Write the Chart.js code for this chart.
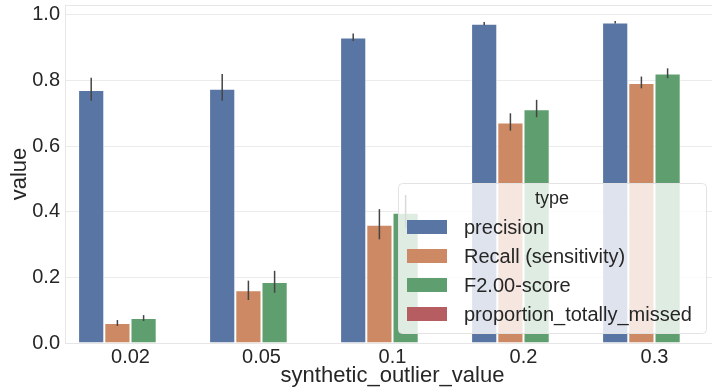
<!DOCTYPE html>
<html>
<head>
<meta charset="utf-8">
<script src="https://cdn.jsdelivr.net/npm/chart.js@4/dist/chart.umd.min.js"></script>
<style>
  html, body { margin: 0; padding: 0; background: #fff; overflow: hidden; }
  #wrap { width: 720px; height: 392px; }
</style>
</head>
<body>
<div id="wrap"><canvas id="chart" width="720" height="392"></canvas></div>
<script>
var categories = ['0.02', '0.05', '0.1', '0.2', '0.3'];
var seriesNames = ['precision', 'Recall (sensitivity)', 'F2.00-score', 'proportion_totally_missed'];
var colors = ['#5975a4', '#cc8963', '#5f9e6e', '#b55d60'];

var precision = [0.771, 0.775, 0.931, 0.973, 0.977];
var recall    = [0.061, 0.161, 0.360, 0.672, 0.792];
var f2score   = [0.076, 0.186, 0.397, 0.712, 0.821];
var missed    = [0, 0, 0, 0, 0];

// error bar ends (low / high)
var precisionLow  = [0.738, 0.738, 0.920, 0.968, 0.974];
var precisionHigh = [0.808, 0.820, 0.943, 0.978, 0.981];
var recallLow     = [0.052, 0.131, 0.316, 0.647, 0.776];
var recallHigh    = [0.070, 0.190, 0.408, 0.700, 0.812];
var f2Low         = [0.067, 0.153, 0.350, 0.688, 0.807];
var f2High        = [0.085, 0.220, 0.451, 0.741, 0.837];
var missedLow     = [0, 0, 0, 0, 0];
var missedHigh    = [0, 0, 0, 0, 0];

var yTicks = [0, 0.2, 0.4, 0.6, 0.8, 1.0];

var values = [precision, recall, f2score, missed];
var lows = [precisionLow, recallLow, f2Low, missedLow];
var highs = [precisionHigh, recallHigh, f2High, missedHigh];

var FONT = '"Liberation Sans", Arial, sans-serif';
var TXT = '#262626';

var framePlugin = {
    id: 'frame',
    beforeDatasetsDraw: function(chart) {
        var a = chart.chartArea, ctx = chart.ctx;
        ctx.save();
        ctx.strokeStyle = '#e6e6e6';
        ctx.lineWidth = 1;
        ctx.strokeRect(a.left + 0.5, a.top + 0.5, a.right - a.left - 1, a.bottom - a.top);
        ctx.restore();
    }
};

var errorBars = {
    id: 'errorBars',
    afterDatasetsDraw: function(chart) {
        var ctx = chart.ctx, y = chart.scales.y;
        ctx.save();
        ctx.strokeStyle = '#444444';
        ctx.lineWidth = 1.5;
        chart.data.datasets.forEach(function(ds, i) {
            var meta = chart.getDatasetMeta(i);
            meta.data.forEach(function(bar, j) {
                if (ds.errHigh[j] - ds.errLow[j] <= 0) return;
                ctx.beginPath();
                ctx.moveTo(bar.x, y.getPixelForValue(ds.errLow[j]));
                ctx.lineTo(bar.x, y.getPixelForValue(ds.errHigh[j]));
                ctx.stroke();
            });
        });
        ctx.restore();
    }
};

var legendBox = {
    id: 'legendBox',
    afterDraw: function(chart) {
        var ctx = chart.ctx;
        var x = 398, y = 183, w = 308, h = 150, r = 4;
        ctx.save();
        ctx.beginPath();
        ctx.roundRect(x + 0.5, y + 0.5, w, h, r);
        ctx.fillStyle = 'rgba(255,255,255,0.8)';
        ctx.fill();
        ctx.strokeStyle = '#e3e3e3';
        ctx.lineWidth = 1;
        ctx.stroke();
        ctx.fillStyle = TXT;
        ctx.textBaseline = 'middle';
        ctx.textAlign = 'center';
        ctx.font = '18px ' + FONT;
        ctx.fillText('type', 552, 199);
        ctx.textAlign = 'left';
        ctx.font = '20px ' + FONT;
        chart.data.datasets.forEach(function(ds, i) {
            var cy = 227 + i * 29;
            ctx.fillStyle = ds.backgroundColor;
            ctx.fillRect(407, cy - 7, 40, 14);
            ctx.fillStyle = TXT;
            ctx.fillText(ds.label, 464, cy + 1);
        });
        ctx.restore();
    }
};

function InitChart() {
    var datasets = seriesNames.map(function(name, i) {
        return {
            label: name,
            data: values[i],
            errLow: lows[i],
            errHigh: highs[i],
            backgroundColor: colors[i],
            borderColor: 'rgba(255,255,255,0.7)',
            borderWidth: 1,
            categoryPercentage: 0.8,
            barPercentage: 1.0
        };
    });

    new Chart(document.getElementById('chart'), {
        type: 'bar',
        data: { labels: categories, datasets: datasets },
        options: {
            responsive: false,
            animation: false,
            layout: { padding: { top: 5, left: 0, right: 0, bottom: 0 } },
            plugins: {
                legend: { display: false },
                tooltip: { enabled: false }
            },
            scales: {
                x: {
                    grid: { display: false, drawTicks: false },
                    border: { display: false },
                    ticks: { color: TXT, font: { family: FONT, size: 20 }, padding: 2 },
                    title: {
                        display: true, text: 'synthetic_outlier_value', color: TXT,
                        font: { family: FONT, size: 22 }, padding: { top: 0, bottom: 3 }
                    },
                    afterFit: function(s) {
                        s.height = 49;
                        s.paddingLeft = 0; s.paddingRight = 0;
                    }
                },
                y: {
                    min: 0,
                    max: 1.03,
                    afterBuildTicks: function(s) {
                        s.ticks = yTicks.map(function(v) { return { value: v }; });
                    },
                    grid: { color: '#ebebeb', lineWidth: 1, drawTicks: false },
                    border: { display: false },
                    ticks: {
                        color: TXT, font: { family: FONT, size: 20 }, padding: 5,
                        callback: function(v) { return Number(v).toFixed(1); }
                    },
                    title: {
                        display: true, text: 'value', color: TXT,
                        font: { family: FONT, size: 22 }, padding: { top: 7, bottom: 0 }
                    },
                    afterFit: function(s) {
                        s.width = 65;
                        s.paddingTop = 0; s.paddingBottom = 0;
                    }
                }
            }
        },
        plugins: [framePlugin, errorBars, legendBox]
    });
}

InitChart();
</script>
</body>
</html>
